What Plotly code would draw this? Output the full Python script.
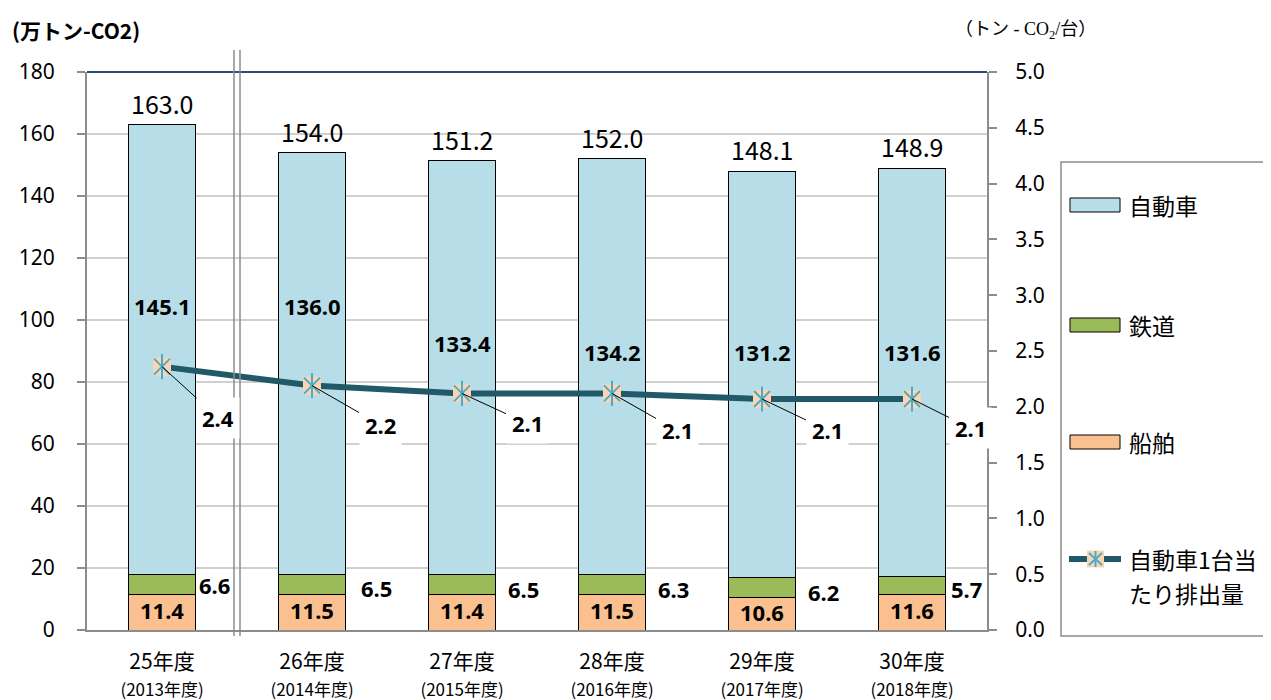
import plotly.graph_objects as go

# ---------------- data ----------------
categories = ["25年度", "26年度", "27年度", "28年度", "29年度", "30年度"]
fiscal_years = ["(2013年度)", "(2014年度)", "(2015年度)", "(2016年度)", "(2017年度)", "(2018年度)"]
ship = [11.4, 11.5, 11.4, 11.5, 10.6, 11.6]
rail = [6.6, 6.5, 6.5, 6.3, 6.2, 5.7]
car = [145.1, 136.0, 133.4, 134.2, 131.2, 131.6]
totals = [163.0, 154.0, 151.2, 152.0, 148.1, 148.9]
per_car = [2.36, 2.19, 2.12, 2.12, 2.07, 2.07]

# ---------------- style ----------------
C_CAR = "#B7DEE8"
C_RAIL = "#9BBB59"
C_SHIP = "#FAC090"
C_LINE = "#215968"
C_MARK = "#FBD4B4"
C_AST = "#4BACC6"
GRID = "#D0D0D0"
AXIS = "#8C8C8C"
F_LAT = "Noto Sans, Open Sans, sans-serif"
F_CJK = "Noto Sans CJK JP, sans-serif"

OFF = 8  # default page body margin
W, H = 1271 - OFF, 700 - OFF
L, T = 87 - OFF, 72 - OFF
PW, PH = 900, 558
R, B = W - L - PW, H - T - PH


def px2x(px):
    return (px - OFF - L) / PW


def px2y(py):
    return (T + PH - (py - OFF)) / PH


fig = go.Figure()

bar_common = dict(width=0.45, marker_line_color="black", marker_line_width=1)
fig.add_trace(go.Bar(name="船舶", x=categories, y=ship, marker_color=C_SHIP, **bar_common))
fig.add_trace(go.Bar(name="鉄道", x=categories, y=rail, marker_color=C_RAIL, **bar_common))
fig.add_trace(go.Bar(name="自動車", x=categories, y=car, marker_color=C_CAR, **bar_common))

fig.add_trace(go.Scatter(name="自動車1台当たり排出量", x=categories, y=per_car, yaxis="y2",
                         mode="lines+markers",
                         line=dict(color=C_LINE, width=6),
                         marker=dict(symbol="square", size=18, color=C_MARK, line=dict(width=0))))
fig.add_trace(go.Scatter(x=categories, y=per_car, yaxis="y2", mode="markers", showlegend=False,
                         hoverinfo="skip",
                         marker=dict(symbol="x-thin-open", size=16, color=C_AST,
                                     line=dict(color=C_AST, width=2))))
fig.add_trace(go.Scatter(x=categories, y=per_car, yaxis="y2", mode="markers", showlegend=False,
                         hoverinfo="skip",
                         marker=dict(symbol="line-ns-open", size=18, color=C_AST,
                                     line=dict(color=C_AST, width=2))))

annotations = []
# totals above bars
for c, t in zip(categories, totals):
    annotations.append(dict(x=c, y=t, xref="x", yref="y", text=f"{t:.1f}", showarrow=False,
                            yanchor="bottom", yshift=2,
                            font=dict(family=F_CJK, size=25, color="black")))
# car values
car_label_y = [104.5, 104.5, 92.6, 89.7, 89.7, 89.7]
for c, v, ly in zip(categories, car, car_label_y):
    annotations.append(dict(x=c, y=ly, xref="x", yref="y", text=f"<b>{v:.1f}</b>", showarrow=False,
                            font=dict(family=F_LAT, size=22, color="black")))
# ship values inside the bottom segment
for c, s in zip(categories, ship):
    annotations.append(dict(x=c, y=s / 2, xref="x", yref="y", text=f"<b>{s:.1f}</b>",
                            showarrow=False, yshift=2,
                            font=dict(family=F_LAT, size=22, color="black")))
# rail values to the right
side_shift = [52, 64, 61, 61, 61, 54]
rail_label_dy = [1.0, 0, 0, 0, 0, 0]
for c, s, r, dx, dy in zip(categories, ship, rail, side_shift, rail_label_dy):
    annotations.append(dict(x=c, y=s + r / 2 + dy, xref="x", yref="y", text=f"<b>{r:.1f}</b>",
                            showarrow=False, xshift=dx, yshift=-4,
                            font=dict(family=F_LAT, size=22, color="black")))
# per-car labels with leader lines
lab_ay = [51, 39, 30, 37, 31, 29]
for c, v, dx, dy in zip(categories, per_car, side_shift, lab_ay):
    annotations.append(dict(x=c, y=v, xref="x", yref="y2", text=f"<b>{v:.1f}</b>", showarrow=True,
                            arrowhead=0, arrowwidth=1, arrowcolor="black", ax=dx + 4, ay=dy,
                            bgcolor="white", borderpad=5,
                            font=dict(family=F_LAT, size=22, color="black")))

# titles
annotations.append(dict(x=px2x(10), y=px2y(30), xref="paper", yref="paper", xanchor="left",
                        yanchor="middle", text="<b>(万トン-CO2)</b>", showarrow=False,
                        font=dict(family=F_CJK, size=21, color="black")))
annotations.append(dict(x=px2x(953), y=px2y(30), xref="paper", yref="paper", xanchor="left",
                        yanchor="middle", text="（トン - CO<sub>2</sub>/台）", showarrow=False,
                        font=dict(family="Liberation Serif, Noto Sans CJK JP, serif", size=18,
                                  color="black")))

shapes = []
# top border line
shapes.append(dict(type="line", xref="paper", yref="paper", x0=0, x1=1, y0=1, y1=1,
                   line=dict(color="#2F4B7C", width=2), layer="above"))
# double separator lines
for px in (234, 240):
    shapes.append(dict(type="line", xref="paper", yref="paper", x0=px2x(px), x1=px2x(px),
                       y0=px2y(50), y1=px2y(636), line=dict(color=AXIS, width=1.5), layer="above"))

# legend (drawn)
shapes.append(dict(type="rect", xref="paper", yref="paper", x0=px2x(1061), x1=px2x(1290),
                   y0=px2y(636), y1=px2y(162), line=dict(color=AXIS, width=1.5),
                   fillcolor="white", layer="below"))
leg_items = [("自動車", C_CAR, 205), ("鉄道", C_RAIL, 325), ("船舶", C_SHIP, 442)]
for name, col, cy in leg_items:
    shapes.append(dict(type="rect", xref="paper", yref="paper", x0=px2x(1070), x1=px2x(1120),
                       y0=px2y(cy + 7), y1=px2y(cy - 7), fillcolor=col,
                       line=dict(color="black", width=1)))
    annotations.append(dict(x=px2x(1127), y=px2y(cy), xref="paper", yref="paper", xanchor="left",
                            yanchor="middle", text=name, showarrow=False,
                            font=dict(family=F_CJK, size=23, color="black")))
ly = 559
shapes.append(dict(type="line", xref="paper", yref="paper", x0=px2x(1069), x1=px2x(1121),
                   y0=px2y(ly), y1=px2y(ly), line=dict(color=C_LINE, width=6)))
shapes.append(dict(type="rect", xref="paper", yref="paper", x0=px2x(1087), x1=px2x(1104),
                   y0=px2y(ly + 8.5), y1=px2y(ly - 8.5), fillcolor=C_MARK, line=dict(width=0)))
for (x0, y0, x1, y1) in [(1095.5, ly - 8, 1095.5, ly + 8), (1089, ly - 6, 1102, ly + 6),
                         (1089, ly + 6, 1102, ly - 6)]:
    shapes.append(dict(type="line", xref="paper", yref="paper", x0=px2x(x0), x1=px2x(x1),
                       y0=px2y(y0), y1=px2y(y1), line=dict(color=C_AST, width=2)))
annotations.append(dict(x=px2x(1127), y=px2y(ly), xref="paper", yref="paper", xanchor="left",
                        yanchor="middle", text="自動車1台当", showarrow=False,
                        font=dict(family=F_CJK, size=23, color="black")))
annotations.append(dict(x=px2x(1127), y=px2y(593), xref="paper", yref="paper", xanchor="left",
                        yanchor="middle", text="たり排出量", showarrow=False,
                        font=dict(family=F_CJK, size=23, color="black")))

ticktext = [f"{c}<br><span style='font-size:17px'>{f}</span>" for c, f in zip(categories, fiscal_years)]

fig.update_layout(
    width=W, height=H,
    margin=dict(l=L, r=R, t=T, b=B, autoexpand=False),
    barmode="stack", bargap=0.55,
    showlegend=False,
    plot_bgcolor="white", paper_bgcolor="white",
    xaxis=dict(type="category", tickvals=categories, ticktext=ticktext,
               tickfont=dict(family=F_CJK, size=21, color="black"),
               showline=True, linecolor=AXIS, linewidth=1.5, ticks="", showgrid=False,
               ticklabelstandoff=12, range=[-0.5, 5.5], fixedrange=True),
    yaxis=dict(range=[0, 180], dtick=20, showgrid=True, gridcolor=GRID, gridwidth=1.5,
               showline=True, linecolor=AXIS, linewidth=2, ticks="outside", ticklen=8,
               tickcolor=AXIS, tickwidth=1.5, ticklabelstandoff=18,
               tickfont=dict(family=F_LAT, size=21, color="black"), zeroline=False),
    yaxis2=dict(range=[0, 5], dtick=0.5, tickformat=".1f", overlaying="y", side="right",
                showgrid=False, showline=True, linecolor=AXIS, linewidth=2, ticks="outside",
                ticklen=8, tickcolor=AXIS, tickwidth=1.5, ticklabelstandoff=14,
                tickfont=dict(family=F_LAT, size=21, color="black"), zeroline=False),
    annotations=annotations,
    shapes=shapes,
)

fig.write_html("out.html")
